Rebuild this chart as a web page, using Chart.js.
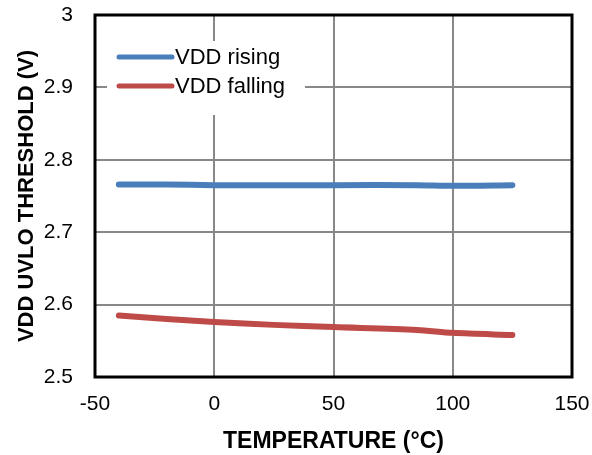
<!DOCTYPE html>
<html>
<head>
<meta charset="utf-8">
<script src="https://cdn.jsdelivr.net/npm/chart.js@4"></script>
<style>
  html, body { margin: 0; padding: 0; background: #fff; }
  #wrap { width: 592px; height: 455px; }
</style>
</head>
<body>
<div id="wrap"><canvas id="myChart" width="592" height="455"></canvas></div>
<script>
// temperature (°C) and thresholds (V)
let temps = [-40, -20, 0, 25, 50, 85, 100, 125];
let rising = [2.766, 2.766, 2.765, 2.765, 2.765, 2.765, 2.764, 2.765];
let falling = [2.585, 2.580, 2.576, 2.572, 2.569, 2.565, 2.561, 2.558];
let xTicks = [-50, 0, 50, 100, 150];
let yTicks = [2.5, 2.6, 2.7, 2.8, 2.9, 3];

const FONT = '"Liberation Sans", Arial, sans-serif';

function toPoints(xs, ys) {
	return xs.map(function(x, i) { return { x: x, y: ys[i] }; });
}

// legend inside the plot, on a white box, plus the heavy frame
const boxPlugin = {
	id: 'boxPlugin',
	afterDatasetsDraw(chart) {
		const ctx = chart.ctx;
		const a = chart.chartArea;
		ctx.save();
		ctx.fillStyle = '#fff';
		ctx.fillRect(a.left + 12, a.top + 26, 198, 74);
		ctx.font = '22px ' + FONT;
		ctx.textBaseline = 'middle';
		chart.data.datasets.forEach(function(ds, i) {
			const y = a.top + 42 + i * 29;
			ctx.strokeStyle = ds.borderColor;
			ctx.lineWidth = 5;
			ctx.lineCap = 'round';
			ctx.beginPath();
			ctx.moveTo(a.left + 24, y);
			ctx.lineTo(a.left + 77, y);
			ctx.stroke();
			ctx.fillStyle = '#000';
			ctx.fillText(ds.label, a.left + 80, y + 1);
		});
		ctx.strokeStyle = '#000';
		ctx.lineWidth = 3;
		ctx.lineCap = 'butt';
		ctx.strokeRect(a.left, a.top, a.right - a.left, a.bottom - a.top);
		ctx.restore();
	}
};

var ctx = document.getElementById("myChart").getContext('2d');
var myChart = new Chart(ctx, {
	type: 'line',
	data: {
		datasets: [{
			label: 'VDD rising',
			data: toPoints(temps, rising),
			borderColor: "#4A7EBB",
			borderWidth: 6,
			borderCapStyle: 'round',
			pointRadius: 0,
			tension: 0.3,
			fill: false
		},
		{
			label: 'VDD falling',
			data: toPoints(temps, falling),
			borderColor: "#BE4B48",
			borderWidth: 6,
			borderCapStyle: 'round',
			pointRadius: 0,
			tension: 0.3,
			fill: false
		}]
	},
	options: {
		responsive: false,
		animation: false,
		layout: { padding: { top: 15, right: 20, left: 0, bottom: 0 } },
		plugins: {
			legend: { display: false },
			tooltip: { enabled: false }
		},
		scales: {
			x: {
				type: 'linear',
				min: -50,
				max: 150,
				afterBuildTicks: function(scale) {
					scale.ticks = xTicks.map(function(v) { return { value: v }; });
				},
				afterFit: function(scale) {
					scale.height = 78;
					scale.paddingLeft = 0;
					scale.paddingRight = 0;
				},
				grid: { color: '#888', lineWidth: 2, drawTicks: false },
				border: { display: false },
				ticks: {
					padding: 15,
					color: '#000',
					maxRotation: 0,
					font: { family: FONT, size: 21 }
				},
				title: {
					display: true,
					text: 'TEMPERATURE (°C)',
					color: '#000',
					padding: { top: 3, bottom: 0 },
					font: { family: FONT, size: 23, weight: 'bold' }
				}
			},
			y: {
				min: 2.5,
				max: 3,
				afterBuildTicks: function(scale) {
					scale.ticks = yTicks.map(function(v) { return { value: v }; });
				},
				afterFit: function(scale) {
					scale.width = 95;
					scale.paddingTop = 0;
					scale.paddingBottom = 0;
				},
				grid: { color: '#888', lineWidth: 2, drawTicks: false },
				border: { display: false },
				ticks: {
					padding: 22,
					color: '#000',
					font: { family: FONT, size: 21 },
					callback: function(v) { return String(Math.round(v * 10) / 10); }
				},
				title: {
					display: true,
					text: 'VDD UVLO THRESHOLD (V)',
					color: '#000',
					padding: { top: 14, bottom: 0 },
					font: { family: FONT, size: 22, weight: 'bold' }
				}
			}
		}
	},
	plugins: [boxPlugin]
});
</script>
</body>
</html>
